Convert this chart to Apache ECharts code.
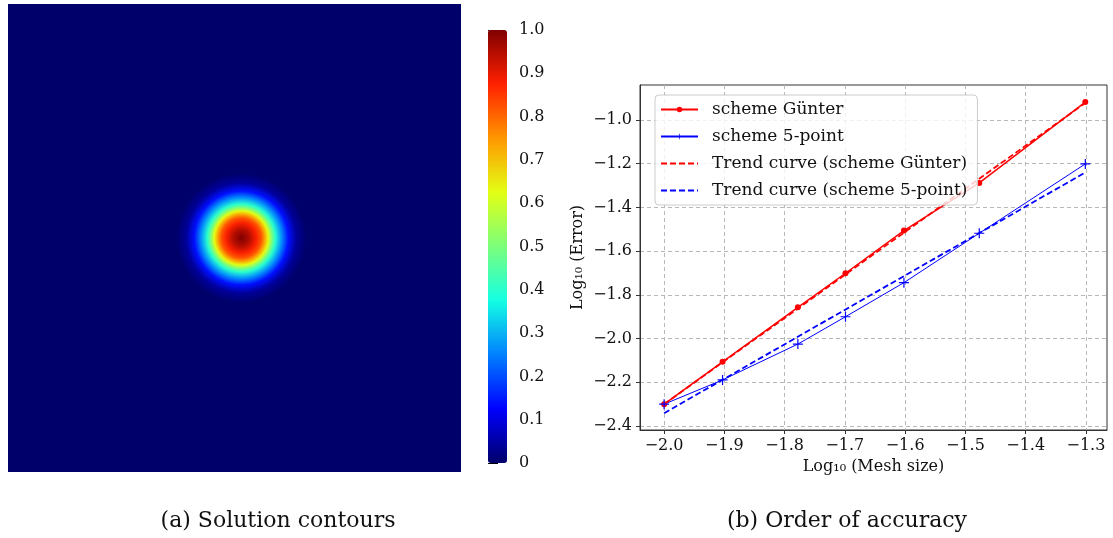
<!DOCTYPE html>
<html>
<head>
<meta charset="utf-8">
<script src="https://cdn.jsdelivr.net/npm/echarts@6/dist/echarts.min.js"></script>
<style>
html,body{margin:0;padding:0;background:#fff;}
#main{width:1113px;height:538px;}
</style>
</head>
<body>
<div id="main"></div>
<script>
// (a) solution field: one gaussian-like blob, radial profile
var blobCenter = [0.515, 0.50];
var blobRadius = [0, 0.0177, 0.0331, 0.0442, 0.053, 0.0596, 0.0662, 0.075, 0.0883, 0.1038, 0.1214, 0.1435];
var blobValue = [1.0, 0.95, 0.88, 0.82, 0.72, 0.63, 0.52, 0.40, 0.27, 0.14, 0.04, 0];
var colorbarTicks = [0, 0.1, 0.2, 0.3, 0.4, 0.5, 0.6, 0.7, 0.8, 0.9, 1.0];

// (b) order of accuracy
var meshLog = [-2.0, -1.903, -1.778, -1.699, -1.602, -1.477, -1.301];
var errGunter = [-2.300, -2.106, -1.857, -1.701, -1.506, -1.288, -0.918];
var errFivePoint = [-2.300, -2.189, -2.025, -1.900, -1.744, -1.518, -1.201];
var trendX = [-2.0, -1.301];
var trendGunter = [-2.300, -0.922];
var trendFivePoint = [-2.341, -1.240];
var xTicks = [-2.0, -1.9, -1.8, -1.7, -1.6, -1.5, -1.4, -1.3];
var yTicks = [-2.4, -2.2, -2.0, -1.8, -1.6, -1.4, -1.2, -1.0];

var names = ['scheme Günter', 'scheme 5-point', 'Trend curve (scheme Günter)', 'Trend curve (scheme 5-point)'];

// jet colormap
var jetColors = ['#00006a', '#0000ff', '#0080ff', '#14ffe3', '#7bff7b', '#e3ff14', '#ff9700', '#ff2000', '#800000'];
var serif = 'DejaVu Serif';

function pairs(xs, ys){
	var out = [];
	for (var i = 0; i < xs.length; i++) out.push([xs[i], ys[i]]);
	return out;
}
function minusFmt(v){
	return (v < 0 ? '\u2212' : '') + Math.abs(v).toFixed(1);
}

var rMax = blobRadius[blobRadius.length - 1];
var blobStops = blobRadius.map(function(r, i){
	return {offset: r / rMax, color: echarts.color.lerp(blobValue[i], jetColors)};
});

var myChart = echarts.init(document.getElementById('main'));
var plus = 'path://M4.4,0h1.2v4.4h4.4v1.2h-4.4v4.4h-1.2v-4.4h-4.4v-1.2h4.4z';

var option = {
	animation: false,
	backgroundColor: '#fff',
	grid: [
		{left: 8, top: 4, width: 453, height: 468, show: true, backgroundColor: '#00006a', borderWidth: 0},
		{left: 488, top: 30, width: 19, height: 433, show: false},
		{left: 640, top: 85, width: 467, height: 345, show: true, borderColor: '#333', borderWidth: 1}
	],
	xAxis: [
		{gridIndex: 0, type: 'value', min: 0, max: 1, show: false},
		{gridIndex: 1, type: 'value', min: 0, max: 1, show: false},
		{
			gridIndex: 2, type: 'value', min: -2.04, max: -1.265,
			name: 'Log\u2081\u2080 (Mesh size)', nameLocation: 'middle', nameGap: 29,
			nameTextStyle: {fontFamily: serif, fontSize: 16, color: '#111'},
			axisLine: {onZero: false, lineStyle: {color: '#333'}},
			axisTick: {customValues: xTicks, length: 4, lineStyle: {color: '#333'}},
			axisLabel: {customValues: xTicks, formatter: minusFmt, fontFamily: serif, fontSize: 16, color: '#111', margin: 8},
			splitLine: {show: true, lineStyle: {color: '#b8b8b8', type: [4, 3], width: 1}}
		}
	],
	yAxis: [
		{gridIndex: 0, type: 'value', min: 0, max: 1, show: false},
		{
			gridIndex: 1, type: 'value', min: 0, max: 1, position: 'right',
			axisLine: {show: false},
			axisTick: {show: true, customValues: colorbarTicks, length: 10, lineStyle: {color: '#000'}},
			axisLabel: {customValues: colorbarTicks, formatter: function(v){ return v === 0 ? '0' : v.toFixed(1); }, fontFamily: serif, fontSize: 16, color: '#111', margin: 12},
			splitLine: {show: false}
		},
		{
			gridIndex: 2, type: 'value', min: -2.418, max: -0.84,
			name: 'Log\u2081\u2080 (Error)', nameLocation: 'middle', nameGap: 54,
			nameTextStyle: {fontFamily: serif, fontSize: 16, color: '#111'},
			axisLine: {onZero: false, lineStyle: {color: '#333'}},
			axisTick: {customValues: yTicks, length: 4, lineStyle: {color: '#333'}},
			axisLabel: {customValues: yTicks, formatter: minusFmt, fontFamily: serif, fontSize: 16, color: '#111', margin: 8},
			splitLine: {show: true, lineStyle: {color: '#b8b8b8', type: [4, 3], width: 1}}
		}
	],
	visualMap: {
		type: 'continuous', min: 0, max: 1, left: 488, top: 30,
		itemWidth: 19, itemHeight: 433, padding: 0,
		calculable: false, hoverLink: false, realtime: false,
		seriesIndex: 0, dimension: 2,
		inRange: {color: jetColors}
	},
	legend: {
		data: names, orient: 'vertical', left: 655, top: 95,
		itemWidth: 37, itemHeight: 7, itemGap: 10,
		padding: [6, 10, 6, 5],
		backgroundColor: 'rgba(255,255,255,0.8)', borderColor: '#cccccc', borderWidth: 1, borderRadius: 4,
		textStyle: {fontFamily: serif, fontSize: 17, color: '#111', padding: [0, 0, 0, 9]}
	},
	graphic: [
		{type: 'text', style: {text: '(a) Solution contours', x: 278, y: 521, align: 'center', verticalAlign: 'middle', font: '22px "DejaVu Serif"', fill: '#111'}},
		{type: 'text', style: {text: '(b) Order of accuracy', x: 847, y: 521, align: 'center', verticalAlign: 'middle', font: '22px "DejaVu Serif"', fill: '#111'}}
	],
	series: [
		{
			type: 'custom', xAxisIndex: 0, yAxisIndex: 0, silent: true,
			data: [[blobCenter[0], blobCenter[1], rMax]],
			renderItem: function(params, api){
				var c = api.coord([api.value(0), api.value(1)]);
				var r = api.size([api.value(2), 0])[0];
				return {
					type: 'circle',
					shape: {cx: c[0], cy: c[1], r: r},
					style: {fill: new echarts.graphic.RadialGradient(0.5, 0.5, 0.5, blobStops)}
				};
			}
		},
		{
			name: names[0], type: 'line', xAxisIndex: 2, yAxisIndex: 2,
			data: pairs(meshLog, errGunter),
			symbol: 'circle', symbolSize: 6, clip: false,
			itemStyle: {color: '#ff0000'}, lineStyle: {color: '#ff0000', width: 1.5}
		},
		{
			name: names[1], type: 'line', xAxisIndex: 2, yAxisIndex: 2,
			data: pairs(meshLog, errFivePoint),
			symbol: plus, symbolSize: 10, clip: false,
			itemStyle: {color: '#0000ff'}, lineStyle: {color: '#0000ff', width: 1}
		},
		{
			name: names[2], type: 'line', xAxisIndex: 2, yAxisIndex: 2,
			data: pairs(trendX, trendGunter), symbol: 'none', clip: false,
			itemStyle: {color: '#ff0000', opacity: 0}, lineStyle: {color: '#ff0000', width: 1.8, type: [6, 3]}
		},
		{
			name: names[3], type: 'line', xAxisIndex: 2, yAxisIndex: 2,
			data: pairs(trendX, trendFivePoint), symbol: 'none', clip: false,
			itemStyle: {color: '#0000ff', opacity: 0}, lineStyle: {color: '#0000ff', width: 1.8, type: [6, 3]}
		}
	]
};
myChart.setOption(option);
</script>
</body>
</html>
